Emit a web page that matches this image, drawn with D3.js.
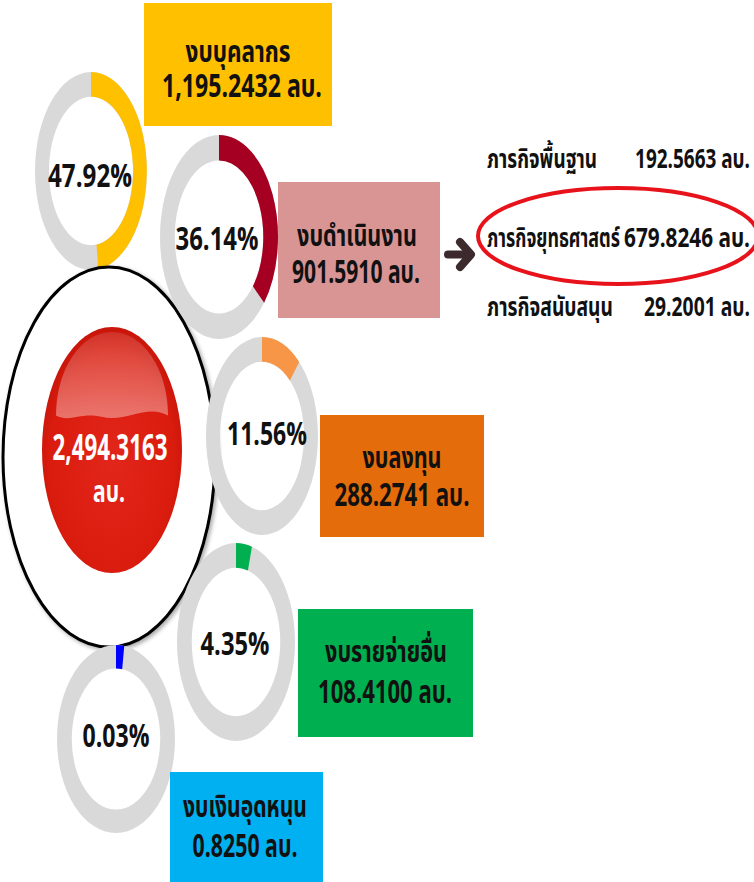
<!DOCTYPE html>
<html>
<head>
<meta charset="utf-8">
<script src="https://cdnjs.cloudflare.com/ajax/libs/d3/7.8.5/d3.min.js"></script>
<style>
body { margin: 0; background: #fff; }
svg text { font-family: "Noto Sans Thai", "Noto Sans", "Tahoma", sans-serif; font-weight: bold; }
</style>
</head>
<body>
<script>
// budget data (ล้านบาท)
var categories = ["งบบุคลากร", "งบดำเนินงาน", "งบลงทุน", "งบรายจ่ายอื่น", "งบเงินอุดหนุน"];
var amounts = [1195.2432, 901.5910, 288.2741, 108.4100, 0.8250];
var percents = [47.92, 36.14, 11.56, 4.35, 0.03];
var total = 2494.3163;
var unit = "ลบ.";

var missions = ["ภารกิจพื้นฐาน", "ภารกิจยุทธศาสตร์", "ภารกิจสนับสนุน"];
var missionAmounts = [192.5663, 679.8246, 29.2001];

var colors = ["#FFC000", "#A50021", "#F79646", "#00B050", "#0000FF"];
var boxColors = ["#FFC000", "#D99594", "#E46C0A", "#00B050", "#00B0F0"];

var width = 754, height = 882;
var fmt = d3.format(",.4f");

// layout of donuts / boxes (screen pixels)
var donuts = [
	{cx: 91,  cy: 171, rx: 56, ry: 99,  tx: 90,  ty: 187, tw: 84},
	{cx: 219, cy: 237, rx: 59, ry: 102, tx: 217, ty: 250, tw: 83},
	{cx: 262, cy: 436, rx: 56, ry: 99,  tx: 267, ty: 445, tw: 80},
	{cx: 236, cy: 642, rx: 59, ry: 99,  tx: 235, ty: 655, tw: 69},
	{cx: 116, cy: 739, rx: 59, ry: 94,  tx: 116, ty: 747, tw: 67}
];
var boxes = [
	{x: 144, y: 3,   w: 188, h: 123, c1: 238, b1: 62,  w1: 105, c2: 242, b2: 97,  w2: 160},
	{x: 278, y: 182, w: 162, h: 136, c1: 357, b1: 246, w1: 120, c2: 356, b2: 283, w2: 128},
	{x: 320, y: 415, w: 164, h: 122, c1: 402, b1: 468, w1: 79,  c2: 402, b2: 506, w2: 135},
	{x: 298, y: 609, w: 175, h: 128, c1: 386, b1: 662, w1: 122, c2: 385, b2: 703, w2: 134},
	{x: 170, y: 772, w: 153, h: 115, c1: 245, b1: 817, w1: 124, c2: 245, b2: 857, w2: 105}
];

var svg = d3.select("body").append("svg")
	.attr("width", width)
	.attr("height", height);

// condensed text: draw at (x,y) and squeeze horizontally to the wanted width
function label(parent, str, x, y, size, w, anchor, fill) {
	var t = parent.append("text")
		.attr("text-anchor", anchor || "middle")
		.attr("font-size", size)
		.attr("fill", fill || "#111")
		.text(str);
	var natural = t.node().getComputedTextLength();
	t.attr("transform", "translate(" + x + "," + y + ") scale(" + (w / natural) + ",1)");
	return t;
}

var defs = svg.append("defs");
var shadow = defs.append("filter").attr("id", "shadow")
	.attr("x", "-10%").attr("y", "-10%").attr("width", "120%").attr("height", "120%");
shadow.append("feDropShadow").attr("dx", 2).attr("dy", 2)
	.attr("stdDeviation", 2).attr("flood-color", "#000").attr("flood-opacity", 0.35);

var ballGrad = defs.append("radialGradient").attr("id", "ball")
	.attr("cx", "50%").attr("cy", "55%").attr("r", "55%");
ballGrad.append("stop").attr("offset", "0%").attr("stop-color", "#E2261A");
ballGrad.append("stop").attr("offset", "80%").attr("stop-color", "#DA1C0E");
ballGrad.append("stop").attr("offset", "100%").attr("stop-color", "#C8150A");

var shineGrad = defs.append("linearGradient").attr("id", "shine")
	.attr("x1", 0).attr("y1", 0).attr("x2", 0).attr("y2", 1);
shineGrad.append("stop").attr("offset", "0%").attr("stop-color", "#fff").attr("stop-opacity", 0.12);
shineGrad.append("stop").attr("offset", "100%").attr("stop-color", "#fff").attr("stop-opacity", 0.38);

var angle = d3.scaleLinear().domain([0, 100]).range([0, 2 * Math.PI]);
var ring = d3.arc().innerRadius(0.75).outerRadius(1);

function drawDonut(i) {
	var d = donuts[i];
	var g = svg.append("g").attr("class", "donut");
	var r = g.append("g").attr("transform", "translate(" + d.cx + "," + d.cy + ") scale(" + d.rx + "," + d.ry + ")");
	r.append("path").attr("d", ring({startAngle: 0, endAngle: 2 * Math.PI})).attr("fill", "#D9D9D9");
	r.append("path")
		.attr("d", ring({startAngle: 0, endAngle: Math.max(angle(percents[i]), 0.14)}))
		.attr("fill", colors[i]);
	label(g, percents[i].toFixed(2) + "%", d.tx, d.ty, 33, d.tw);
}

// first donut sits behind the big ellipse
drawDonut(0);

// total ellipse
var big = svg.append("g");
big.append("ellipse")
	.attr("cx", 109).attr("cy", 457).attr("rx", 106).attr("ry", 190)
	.attr("fill", "#fff").attr("stroke", "#000").attr("stroke-width", 3)
	.attr("filter", "url(#shadow)");

var bx = 112, by = 450, brx = 70, bry = 123;
big.append("ellipse")
	.attr("cx", bx).attr("cy", by).attr("rx", brx).attr("ry", bry)
	.attr("fill", "url(#ball)");

// glossy highlight on top of the ball: elliptic cap with a wavy lower edge
var hx = brx * 0.8, hy = bry * 0.68, base = by - bry * 0.28;
var hl = "M" + (bx - hx) + "," + base +
	"A" + hx + "," + hy + " 0 0 1 " + (bx + hx) + "," + base +
	"C" + (bx + brx * 0.5) + "," + (by - bry * 0.38) + " " + (bx + brx * 0.2) + "," + (by - bry * 0.22) + " " + (bx - brx * 0.15) + "," + (by - bry * 0.27) +
	"C" + (bx - brx * 0.45) + "," + (by - bry * 0.31) + " " + (bx - brx * 0.6) + "," + (by - bry * 0.22) + " " + (bx - hx) + "," + base + "Z";
big.append("path").attr("d", hl).attr("fill", "url(#shine)");

label(big, fmt(total), 110, 460, 35, 115, "middle", "#fff");
label(big, unit, 109, 502, 30, 32, "middle", "#fff");

for (var i = 1; i < donuts.length; i++) drawDonut(i);

// category boxes
boxes.forEach(function(b, i) {
	var g = svg.append("g");
	g.append("rect").attr("x", b.x).attr("y", b.y).attr("width", b.w).attr("height", b.h)
		.attr("fill", boxColors[i]);
	label(g, categories[i], b.c1, b.b1, 30, b.w1);
	label(g, fmt(amounts[i]) + " " + unit, b.c2, b.b2, 32, b.w2);
});

// arrow to the mission breakdown
var arrow = svg.append("g").attr("stroke", "#3C2A2E").attr("stroke-width", 8)
	.attr("stroke-linecap", "round").attr("stroke-linejoin", "round").attr("fill", "none");
arrow.append("line").attr("x1", 448).attr("y1", 254.5).attr("x2", 469).attr("y2", 254.5);
arrow.append("polyline").attr("points", "460,242 471,254.5 460,267");

// mission rows
var rowY = [168, 247, 316];
var nameW = [110, 133, 126];
var amtW = [115, 126, 106];
missions.forEach(function(m, i) {
	label(svg, m, 487, rowY[i], 27, nameW[i], "start");
	label(svg, fmt(missionAmounts[i]) + " " + unit, 750, rowY[i], 27, amtW[i], "end");
});

// highlight ring around the strategic mission
svg.append("ellipse")
	.attr("cx", 618).attr("cy", 236).attr("rx", 140).attr("ry", 48)
	.attr("fill", "none").attr("stroke", "#E8121B").attr("stroke-width", 4);
</script>
</body>
</html>
